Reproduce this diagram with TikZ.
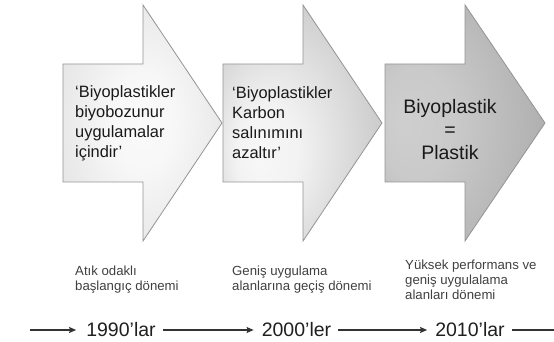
\documentclass[tikz,border=0pt]{standalone}
\usepackage{fontspec}
\setmainfont{Liberation Sans}
\usetikzlibrary{arrows.meta}
\pgfdeclareradialshading{shA}{\pgfpoint{0bp}{0bp}}{gray(0bp)=(0.98); gray(10bp)=(0.97); gray(42bp)=(0.85); gray(50bp)=(0.83)}
\pgfdeclareradialshading{shB}{\pgfpoint{-14bp}{-8bp}}{gray(0bp)=(0.97); gray(10bp)=(0.95); gray(42bp)=(0.71); gray(50bp)=(0.67)}
\pgfdeclareradialshading{shC}{\pgfpoint{-20bp}{0bp}}{gray(0bp)=(0.81); gray(12bp)=(0.79); gray(42bp)=(0.64); gray(50bp)=(0.61)}
\definecolor{edgegray}{gray}{0.58}
\tikzset{
  bigarrow/.style={draw=edgegray, line width=0.8pt, line join=miter},
  atext/.style={font=\fontsize{16.4}{20}\selectfont, align=left, inner sep=0pt, text=black!90, anchor=west},
  btext/.style={font=\fontsize{19.5}{23}\selectfont, align=center, inner sep=0pt, text=black!90},
  ltext/.style={font=\fontsize{13.2}{15}\selectfont, align=left, inner sep=0pt, text=black!75, anchor=west},
  ytext/.style={font=\fontsize{19.5}{23}\selectfont, inner sep=0pt, text=black!88},
  tl/.style={draw=black!80, line width=1.2pt, -{Stealth[length=7pt,width=6pt,inset=1pt]}}
}
\begin{document}
\begin{tikzpicture}[x=1pt,y=1pt]
\useasboundingbox (0,0) rectangle (554,342);
% big arrows
\shadedraw[shading=shA, bigarrow] (63,278) -- (143,278) -- (143,337) -- (222,219) -- (143,101) -- (143,160) -- (63,160) -- cycle;
\shadedraw[shading=shB, bigarrow] (223,278) -- (303,278) -- (303,337) -- (382,219) -- (303,101) -- (303,160) -- (223,160) -- cycle;
\shadedraw[shading=shC, bigarrow] (385,278) -- (465,278) -- (465,337) -- (545,219) -- (465,101) -- (465,160) -- (385,160) -- cycle;
% arrow texts
\node[atext] (t1) at (75,219) {‘Biyoplastikler\\biyobozunur\\uygulamalar\\içindir’};
\node[atext] (t2) at (232,219) {‘Biyoplastikler\\Karbon\\salınımını\\azaltır’};
\node[btext] (t3) at (450,212) {Biyoplastik\\=\\Plastik};
% period labels
\node[ltext] (l1) at (75,62) {Atık odaklı\\başlangıç dönemi};
\node[ltext] (l2) at (232,62) {Geniş uygulama\\alanlarına geçiş dönemi};
\node[ltext] (l3) at (405,62) {Yüksek performans ve\\geniş uygulalama\\alanları dönemi};
% timeline
\node[ytext] (y1) at (121,12) {1990’lar};
\node[ytext] (y2) at (296.5,12) {2000’ler};
\node[ytext] (y3) at (470,12) {2010’lar};
\coordinate (s) at (30,12);
\coordinate (e) at (554,12);
\draw[tl, shorten >=10pt] (s) -- (y1);
\draw[tl, shorten <=7pt, shorten >=8pt] (y1) -- (y2);
\draw[tl, shorten <=7pt, shorten >=8pt] (y2) -- (y3);
\draw[tl, -, shorten <=7pt] (y3) -- (e);
\end{tikzpicture}
\end{document}
